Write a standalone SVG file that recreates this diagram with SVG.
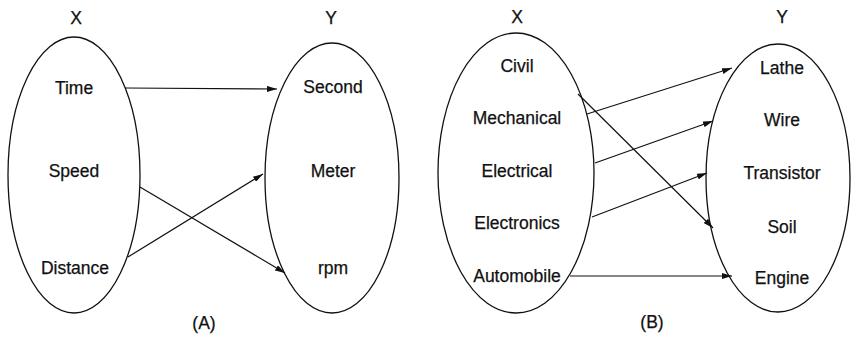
<svg xmlns="http://www.w3.org/2000/svg" width="852" height="338" viewBox="0 0 852 338">
<defs>
<marker id="ah" viewBox="0 0 10 6" refX="10" refY="3" markerWidth="10" markerHeight="6" markerUnits="userSpaceOnUse" orient="auto">
<path d="M0,0 L10,3 L0,6 Z" fill="#111"/>
</marker>
<style>
.el{fill:none;stroke:#111;stroke-width:1.3}
.t{font-family:"Liberation Sans",Arial,sans-serif;font-size:17.5px;fill:#111;stroke:#111;stroke-width:0.25;text-anchor:middle;dominant-baseline:central}
.c{stroke:#111;stroke-width:1.2;fill:none;marker-end:url(#ah)}
</style>
</defs>
<rect width="852" height="338" fill="#fff"/>
<g id="A-X">
<ellipse class="el" cx="74" cy="175" rx="66" ry="138"/>
<text class="t" x="76" y="18">X</text>
<text class="t" x="74" y="88">Time</text>
<text class="t" x="74" y="171">Speed</text>
<text class="t" x="75" y="268">Distance</text>
</g>
<g id="A-Y">
<ellipse class="el" cx="332" cy="178" rx="67" ry="135"/>
<text class="t" x="331" y="18">Y</text>
<text class="t" x="333" y="87">Second</text>
<text class="t" x="333" y="171">Meter</text>
<text class="t" x="333" y="268">rpm</text>
</g>
<text class="t" x="204" y="323">(A)</text>
<g id="B-X">
<ellipse class="el" cx="516" cy="173" rx="78" ry="140"/>
<text class="t" x="517" y="17">X</text>
<text class="t" x="517" y="66">Civil</text>
<text class="t" x="517" y="118">Mechanical</text>
<text class="t" x="517" y="171">Electrical</text>
<text class="t" x="517" y="223">Electronics</text>
<text class="t" x="517" y="276">Automobile</text>
</g>
<g id="B-Y">
<ellipse class="el" cx="778" cy="178" rx="72" ry="134"/>
<text class="t" x="782" y="17">Y</text>
<text class="t" x="782" y="68">Lathe</text>
<text class="t" x="782" y="120">Wire</text>
<text class="t" x="782" y="173">Transistor</text>
<text class="t" x="782" y="227">Soil</text>
<text class="t" x="782" y="278">Engine</text>
</g>
<text class="t" x="652" y="322">(B)</text>
<g id="connectors">
<line class="c" x1="125" y1="88" x2="277" y2="89"/>
<line class="c" x1="140" y1="187" x2="285" y2="273"/>
<line class="c" x1="128" y1="257" x2="263" y2="174"/>
<line class="c" x1="587" y1="114" x2="732" y2="68"/>
<line class="c" x1="578" y1="94" x2="713" y2="228"/>
<line class="c" x1="595" y1="163" x2="713" y2="121"/>
<line class="c" x1="592" y1="217" x2="707" y2="173"/>
<line class="c" x1="570" y1="276" x2="732" y2="276"/>
</g>
</svg>
